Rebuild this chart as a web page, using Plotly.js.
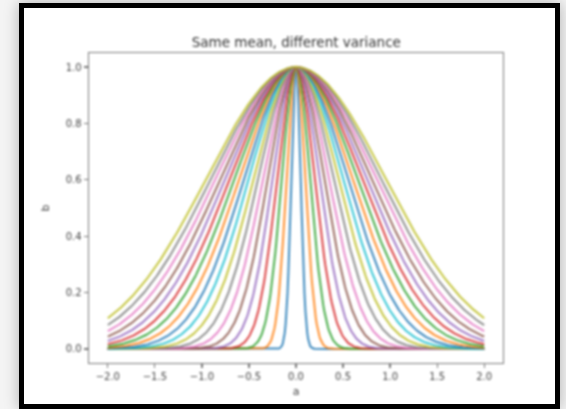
<!DOCTYPE html>
<html>
<head>
<meta charset="utf-8">
<script src="https://cdn.plot.ly/plotly-3.0.1.min.js"></script>
<style>
  html, body { margin:0; padding:0; width:566px; height:409px; overflow:hidden; background:#f4f4f4; }
  #frame { position:absolute; left:19px; top:3px; width:531px; height:396px; border:5px solid #000; background:#fff;
           box-shadow: 0 0 14px rgba(0,0,0,0.28); }
  #plot { position:absolute; left:0; top:0; width:566px; height:409px; filter: blur(0.9px); }
</style>
</head>
<body>
<div id="frame"></div>
<div id="plot"></div>
<script>
// Width (sigma) of each curve (innermost to outermost)
const sigmas = [0.05, 0.10, 0.15, 0.20, 0.25, 0.30, 0.35, 0.40, 0.45, 0.50,
                0.55, 0.60, 0.65, 0.70, 0.75, 0.80, 0.85, 0.90, 0.95];
const colors = ['#1f77b4','#ff7f0e','#2ca02c','#d62728','#9467bd',
                '#8c564b','#e377c2','#7f7f7f','#bcbd22','#17becf'];
const xTicks = [-2.0, -1.5, -1.0, -0.5, 0.0, 0.5, 1.0, 1.5, 2.0];
const xTickLabels = ['\u22122.0','\u22121.5','\u22121.0','\u22120.5','0.0','0.5','1.0','1.5','2.0'];
const yTicks = [0.0, 0.2, 0.4, 0.6, 0.8, 1.0];
const yTickLabels = ['0.0','0.2','0.4','0.6','0.8','1.0'];
const xMin = -2, xMax = 2, nPts = 401;

const xs = [];
for (let i = 0; i < nPts; i++) xs.push(xMin + (xMax - xMin) * i / (nPts - 1));

const traces = sigmas.map((s, k) => ({
  x: xs,
  y: xs.map(v => Math.exp(-v * v / (2 * s * s))),
  type: 'scatter', mode: 'lines',
  line: { color: colors[k % colors.length], width: 2 },
  opacity: 0.85,
  hoverinfo: 'skip', showlegend: false
}));

const axisCommon = {
  showgrid: false, zeroline: false, showline: true, mirror: true,
  linecolor: '#777', linewidth: 1.4,
  ticks: 'outside', ticklen: 4, tickwidth: 1.2, tickcolor: '#777',
  tickfont: { family: 'DejaVu Sans', size: 10, color: '#444' }
};

const layout = {
  width: 566, height: 409,
  paper_bgcolor: 'rgba(0,0,0,0)', plot_bgcolor: 'rgba(0,0,0,0)',
  margin: { l: 89, r: 63, t: 53, b: 46 },
  title: { text: 'Same mean, different variance', x: 0.5235, xanchor: 'center',
           y: 1 - 42/409, yanchor: 'middle', yref: 'container',
           font: { family: 'DejaVu Sans', size: 13.5, color: '#333' } },
  xaxis: Object.assign({}, axisCommon, {
    range: [-2.2, 2.2], tickvals: xTicks, ticktext: xTickLabels,
    title: { text: 'a', standoff: 6, font: { family: 'DejaVu Sans', size: 11, color: '#444' } }
  }),
  yaxis: Object.assign({}, axisCommon, {
    range: [-0.05, 1.05], tickvals: yTicks, ticktext: yTickLabels,
    title: { text: 'b', standoff: 14, font: { family: 'DejaVu Sans', size: 11, color: '#444' } }
  })
};

Plotly.newPlot('plot', traces, layout, { staticPlot: true, displayModeBar: false });
</script>
</body>
</html>
